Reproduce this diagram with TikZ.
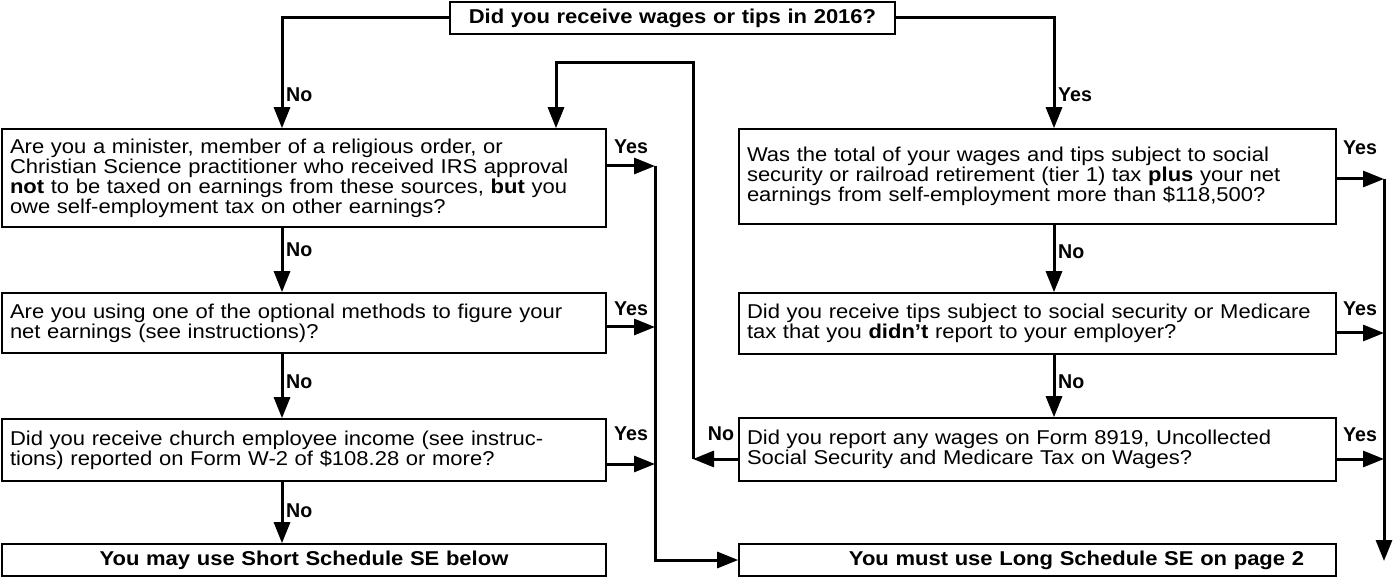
\documentclass[tikz,border=0pt]{standalone}
\usepackage{fontspec}
\setmainfont{Liberation Sans}[FakeStretch=1.1]
\newfontfamily\labfont{Liberation Sans}[FakeStretch=0.98]
\usetikzlibrary{arrows.meta}
\begin{document}
\begin{tikzpicture}[x=1pt,y=-1pt,
  box/.style={draw, line width=1.6pt, inner xsep=8pt, inner ysep=0pt, align=left,
    font=\fontsize{20}{20}\selectfont, anchor=center},
  hbox/.style={box, align=center, font=\bfseries\fontsize{20}{20}\selectfont},
  arr/.style={line width=3pt, -{Triangle[length=21pt,width=16pt]}},
  lab/.style={font=\labfont\bfseries\fontsize{20}{20}\selectfont, inner sep=0pt}]
\useasboundingbox (0,0) rectangle (1393,577);

% boxes
\node[hbox, text width=429pt, minimum height=32pt] (top) at (672.5,18) {Did you receive wages or tips in 2016?};

\node[box, text width=588pt, minimum height=98pt] (L1) at (304,178)
 {Are you a minister, member of a religious order, or\\
  Christian Science practitioner who received IRS approval\\
  \textbf{not} to be taxed on earnings from these sources, \textbf{but} you\\
  owe self-employment tax on other earnings?};
\node[box, text width=588pt, minimum height=60pt] (L2) at (304,323)
 {Are you using one of the optional methods to figure your\\
  net earnings (see instructions)?};
\node[box, text width=588pt, minimum height=62pt] (L3) at (304,450)
 {Did you receive church employee income (see instruc-\\
  tions) reported on Form W-2 of \$108.28 or more?};
\node[hbox, text width=588pt, minimum height=32pt] (L4) at (304,560)
 {You may use Short Schedule SE below};

\node[box, text width=581pt, minimum height=95pt] (R1) at (1037.5,176.5)
 {Was the total of your wages and tips subject to social\\
  security or railroad retirement (tier 1) tax \textbf{plus} your net\\
  earnings from self-employment more than \$118,500?};
\node[box, text width=581pt, minimum height=61pt] (R2) at (1037.5,323.5)
 {Did you receive tips subject to social security or Medicare\\
  tax that you \textbf{didn't} report to your employer?};
\node[box, text width=581pt, minimum height=63pt] (R3) at (1037.5,449.5)
 {Did you report any wages on Form 8919, Uncollected\\
  Social Security and Medicare Tax on Wages?};
\node[hbox, text width=581pt, minimum height=32pt] (R4) at (1037.5,560)
 {\hspace*{78pt}You must use Long Schedule SE on page 2};

% helper coordinates
\coordinate (cL) at (282,0);
\coordinate (cR) at (1054,0);
\coordinate (cLoop) at (556,0);
\coordinate (lp) at (693,459);
\coordinate (lpTop) at (693,63);
\coordinate (lc1) at (655,166);
\coordinate (lc2) at (655,327);
\coordinate (lc3) at (655,464);
\coordinate (rc1) at (1384,179);
\coordinate (rc2) at (1384,333);
\coordinate (rc3) at (1384,459);
\coordinate (rcEnd) at (1384,561);

% top branches
\draw[arr] (top.west) -| (L1.north -| cL);
\draw[arr] (top.east) -| (R1.north -| cR);

% left column
\draw[arr] (L1.south -| cL) -- (L2.north -| cL);
\draw[arr] (L2.south -| cL) -- (L3.north -| cL);
\draw[arr] (L3.south -| cL) -- (L4.north -| cL);

% right column
\draw[arr] (R1.south -| cR) -- (R2.north -| cR);
\draw[arr] (R2.south -| cR) -- (R3.north -| cR);

% loop back
\draw[arr] (R3.west |- lp) -- (lp);
\draw[arr] (lp) -- (lpTop) -| (L1.north -| cLoop);

% left yes arrows
\draw[arr] (L1.east |- lc1) -- (lc1);
\draw[arr] (L2.east |- lc2) -- (lc2);
\draw[arr] (L3.east |- lc3) -- (lc3);
\draw[arr] (lc1) -- (lc1 |- R4.west) -- (R4.west);

% right yes arrows
\draw[arr] (R1.east |- rc1) -- (rc1);
\draw[arr] (R2.east |- rc2) -- (rc2);
\draw[arr] (R3.east |- rc3) -- (rc3);
\draw[arr] (rc1) -- (rcEnd);

% labels
\node[lab, anchor=west] (n1) at (286,95) {No};
\node[lab, anchor=west] (n2) at (286,250) {No};
\node[lab, anchor=west] (n3) at (286,382) {No};
\node[lab, anchor=west] (n4) at (286,511) {No};
\node[lab, anchor=west] (y0) at (1058,95) {Yes};
\node[lab, anchor=west] (n5) at (1058,252) {No};
\node[lab, anchor=west] (n6) at (1058,382) {No};
\node[lab] (n7) at (721,434) {No};
\node[lab] (y1) at (631,147) {Yes};
\node[lab] (y2) at (631,309) {Yes};
\node[lab] (y3) at (631,434) {Yes};
\node[lab] (y4) at (1360,148) {Yes};
\node[lab] (y5) at (1360,309) {Yes};
\node[lab] (y6) at (1360,435) {Yes};
\end{tikzpicture}
\end{document}
